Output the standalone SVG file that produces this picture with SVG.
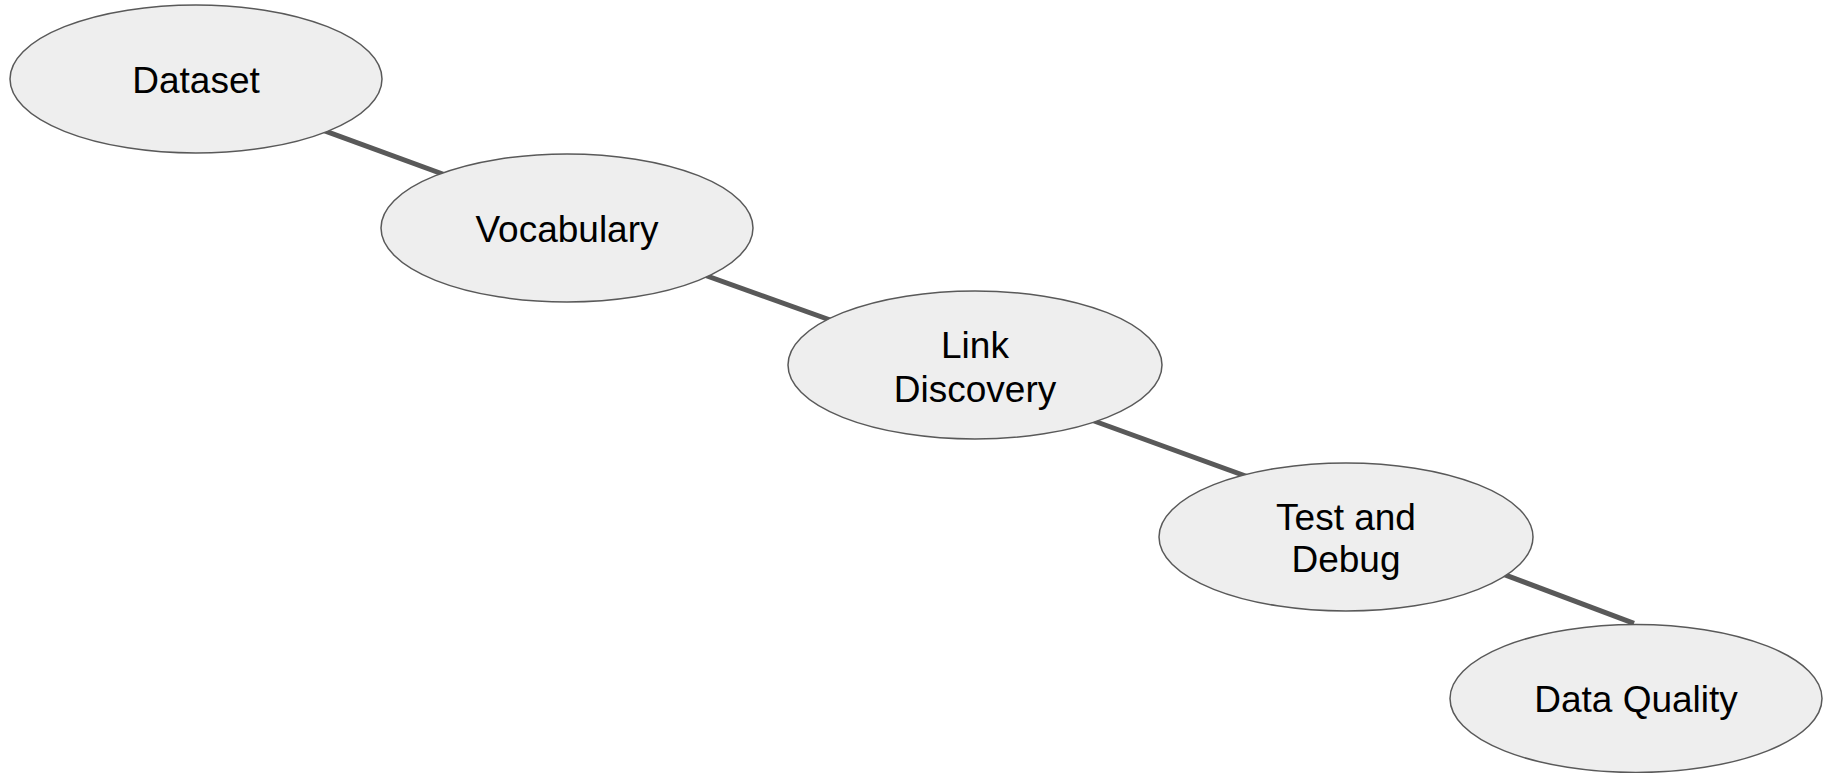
<svg xmlns="http://www.w3.org/2000/svg" width="1823" height="773" viewBox="0 0 1823 773">
<style>
.node ellipse{fill:#eeeeee;stroke:#595959;stroke-width:1.5}
.node text{font-family:"Liberation Sans",Arial,sans-serif;font-size:37px;fill:#000;text-anchor:middle}
.conn line{stroke:#595959;stroke-width:5;stroke-linecap:butt}
</style>
<rect width="1823" height="773" fill="#fff"/>
<g id="connectors" class="conn">
<line x1="250" y1="103.5" x2="500" y2="195"/>
<line x1="640" y1="252" x2="900" y2="345"/>
<line x1="1050" y1="405" x2="1300" y2="495.7"/>
<line x1="1420" y1="543" x2="1634" y2="623.3"/>
</g>
<g id="dataset" class="node">
<ellipse cx="196" cy="79" rx="186" ry="74"/>
<text x="196" y="92.5">Dataset</text>
</g>
<g id="vocabulary" class="node">
<ellipse cx="567" cy="228" rx="186" ry="74"/>
<text x="567" y="241.5">Vocabulary</text>
</g>
<g id="link-discovery" class="node">
<ellipse cx="975" cy="365" rx="187" ry="74"/>
<text x="975" y="358">Link</text>
<text x="975" y="401.5">Discovery</text>
</g>
<g id="test-debug" class="node">
<ellipse cx="1346" cy="537" rx="187" ry="74"/>
<text x="1346" y="529.5">Test and</text>
<text x="1346" y="572">Debug</text>
</g>
<g id="data-quality" class="node">
<ellipse cx="1636" cy="698.5" rx="186" ry="74"/>
<text x="1636" y="711.5">Data Quality</text>
</g>
</svg>
